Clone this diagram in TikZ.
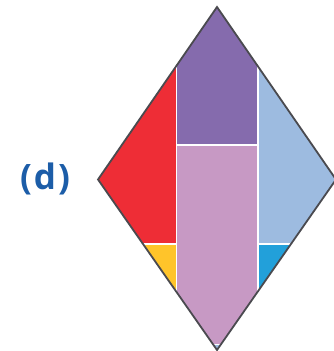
\documentclass[tikz,border=0pt]{standalone}
\usepackage{fontspec}
\setsansfont{Open Sans}
\usepackage{tikz}
\usetikzlibrary{positioning}
\definecolor{cred}{HTML}{EE2D36}
\definecolor{cpurple}{HTML}{856BAD}
\definecolor{cpink}{HTML}{C799C4}
\definecolor{clight}{HTML}{9DBBE0}
\definecolor{cyellow}{HTML}{FFC42A}
\definecolor{cblue}{HTML}{22A0DA}
\definecolor{clabel}{HTML}{1C5DA8}
\definecolor{cedge}{HTML}{4A4A4F}

\begin{document}
\begin{tikzpicture}[
  x=1pt, y=-1pt,
  divider/.style={draw=white, line width=1.3pt},
  outline/.style={draw=cedge, line width=1.8pt, line join=miter},
  tag/.style={font=\sffamily\bfseries\fontsize{35}{38}\selectfont, text=clabel}
]
\useasboundingbox (0,0) rectangle (334,351);

% diamond corners
\coordinate (T) at (217,7);
\coordinate (L) at (98,179.5);
\coordinate (R) at (336,179.5);
\coordinate (B) at (217,350);

\begin{scope}
  \clip (T) -- (R) -- (B) -- (L) -- cycle;
  \fill[cred] (90,0) rectangle (176.5,244);
  \fill[cyellow] (90,244) rectangle (176.5,351);
  \fill[cpurple] (176.5,0) rectangle (258,145);
  \fill[cpink] (176.5,145) rectangle (258,344.5);
  \fill[clight] (176.5,344.5) rectangle (258,351);
  \fill[clight] (258,0) rectangle (340,244);
  \fill[cblue] (258,244) rectangle (340,351);
  % white dividers
  \draw[divider] (176.5,0) -- (176.5,351);
  \draw[divider] (258,0) -- (258,351);
  \draw[divider] (176.5,145) -- (258,145);
  \draw[divider] (90,244) -- (176.5,244);
  \draw[divider] (258,244) -- (340,244);
  \draw[divider] (176.5,344.5) -- (258,344.5);
\end{scope}
\draw[outline] (T) -- (R) -- (B) -- (L) -- cycle;

\node[tag] (lbl) at (45,178.5) {(\kern2pt d\kern2pt)};
\end{tikzpicture}
\end{document}
